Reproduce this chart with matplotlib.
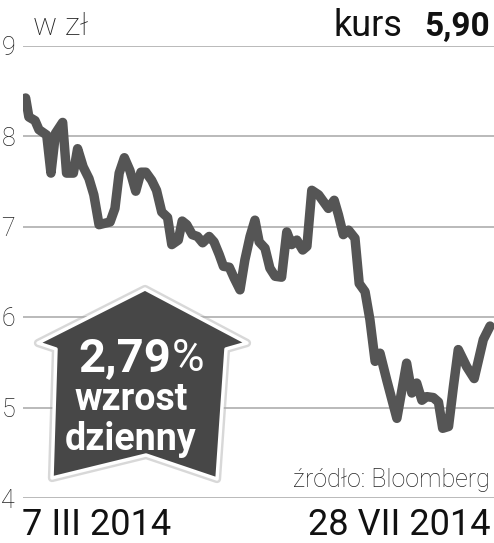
import numpy as np
import matplotlib
matplotlib.use('Agg')
from matplotlib import pyplot as plt
from matplotlib.patches import Polygon

# days since 7 III 2014 and closing price (zl)
days = [0, 1.0, 2.9, 4.1, 6.5, 7.8, 9.2, 11.4, 12.6, 14.7, 16.0, 17.7, 19.5, 21.0,
        22.6, 26.0, 27.5, 28.8, 30.4, 32.1, 33.9, 35.5, 37.0, 38.8, 40.3, 41.9,
        43.7, 45.0, 47.0, 48.2, 49.6, 51.3, 52.9, 54.5, 56.5, 58.0, 59.6, 60.9,
        62.7, 64.2, 66.0, 67.5, 69.1, 70.6, 71.9, 73.7, 75.2, 76.8, 78.8, 80.4,
        81.9, 83.5, 85.3, 86.6, 88.1, 90.2, 93.2, 95.0, 96.3, 97.8, 99.4, 101.4,
        102.7, 104.5, 106.0, 107.6, 109.1, 111.2, 114.3, 117.3, 118.9, 120.4,
        122.0, 123.5, 125.5, 127.1, 128.4, 130.2, 131.7, 133.2, 135.8, 138.1,
        140.9, 143.0]
price = [8.42, 8.21, 8.17, 8.07, 8.01, 7.59, 8.03, 8.15, 7.59, 7.59, 7.86, 7.66,
         7.53, 7.35, 7.02, 7.05, 7.20, 7.59, 7.76, 7.62, 7.39, 7.60, 7.60, 7.51,
         7.40, 7.16, 7.10, 6.80, 6.85, 7.06, 7.02, 6.91, 6.89, 6.82, 6.89, 6.83,
         6.69, 6.56, 6.55, 6.43, 6.30, 6.63, 6.89, 7.07, 6.83, 6.76, 6.54, 6.45,
         6.44, 6.94, 6.80, 6.85, 6.74, 6.78, 7.40, 7.35, 7.20, 7.29, 7.13, 6.91,
         6.96, 6.87, 6.37, 6.28, 5.97, 5.51, 5.60, 5.30, 4.88, 5.49, 5.16, 5.27,
         5.08, 5.12, 5.11, 5.06, 4.77, 4.79, 5.23, 5.64, 5.45, 5.32, 5.75, 5.90]

yticks = [4, 5, 6, 7, 8, 9]
start_label = '7 III 2014'
end_label = '28 VII 2014'
last_price = '5,90'
change = '2,79'

W, H = 494, 543
fnt = ['Roboto', 'DejaVu Sans']
fig = plt.figure(figsize=(W / 100, H / 100), dpi=100)
ax = fig.add_axes([22.7 / W, 1 - 498 / H, 1 - 22.7 / W, (498 - 45.5) / H])
ax.set_ylim(4, 9)
ax.set_xlim(-0.9, 144.2)
for v in yticks:
    ax.axhline(v, color='#b4b4b4', lw=1.3, zorder=1)
ax.plot(days, price, color='#555555', lw=6.8, solid_joinstyle='round',
        solid_capstyle='round', zorder=3)
ax.set_xticks([])
ax.set_yticks(yticks)
ax.set_yticklabels([str(v) for v in yticks], family=fnt, fontsize=18,
                   fontweight='light', color='#222222')
ax.tick_params(axis='y', length=0, pad=5.5)
for s in ax.spines.values():
    s.set_visible(False)

def px(x, y):
    return (x / W, 1 - y / H)

# arrow badge
shape = [px(145, 289), px(247, 343), px(226, 349), px(217, 479), px(146, 455),
         px(52, 478), px(56, 349), px(38, 343)]
shadow = Polygon(shape, closed=True, transform=fig.transFigure, facecolor='none',
                 edgecolor='#aaaaaa', lw=6, alpha=0.45, joinstyle='round', zorder=4)
fig.patches.append(shadow)
badge = Polygon(shape, closed=True, transform=fig.transFigure, facecolor='#474747',
                edgecolor='white', lw=2.5, joinstyle='round', zorder=5)
fig.patches.append(badge)

bold_kw = dict(family=fnt, fontweight='bold', color='white', va='baseline', zorder=6)
fig.text(*px(204, 371), '%', family=fnt, fontsize=32, color='white', ha='right',
         va='baseline', zorder=6)
fig.text(*px(171, 371), change, fontsize=34, ha='right', **bold_kw)
fig.text(*px(131, 410), 'wzrost', fontsize=27, ha='center', **bold_kw)
fig.text(*px(131, 450), 'dzienny', fontsize=27, ha='center', **bold_kw)

fig.text(*px(33, 35), 'w zł', family=fnt, fontsize=23, fontweight='light',
         color='#222222', va='baseline')
fig.text(*px(490, 36), last_price, family=fnt, fontsize=24, fontweight='bold',
         color='#111111', ha='right', va='baseline')
fig.text(*px(402, 36), 'kurs', family=fnt, fontsize=26, color='#111111',
         ha='right', va='baseline')
fig.text(*px(490, 487), 'źródło: Bloomberg', family=fnt, fontsize=18, fontweight='light',
         color='#222222', ha='right', va='baseline')
fig.text(*px(22, 535), start_label, family=fnt, fontsize=26, color='#111111', va='baseline')
fig.text(*px(490, 535), end_label, family=fnt, fontsize=26, color='#111111', ha='right',
         va='baseline')

fig.savefig('out.png', dpi=100)
